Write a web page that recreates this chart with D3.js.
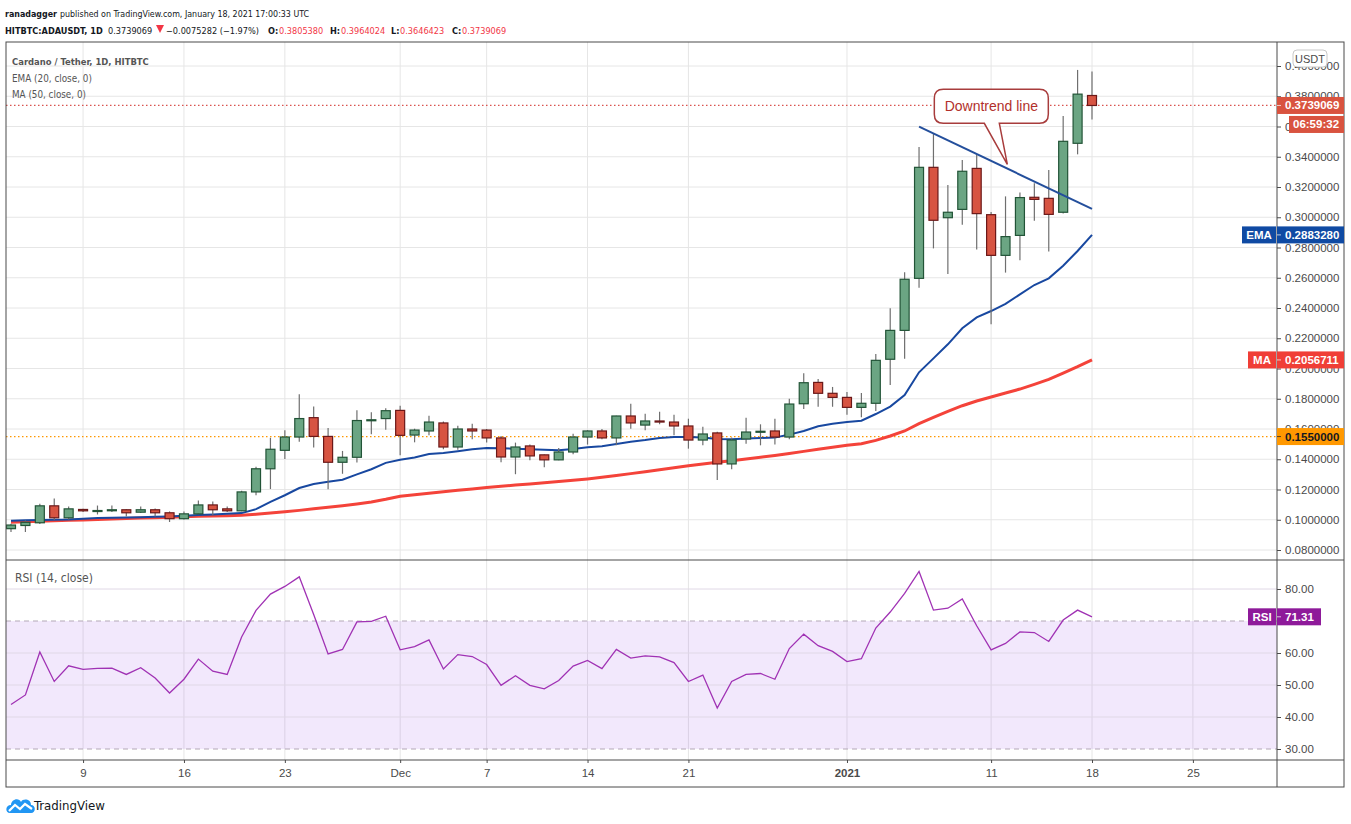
<!DOCTYPE html>
<html lang="en">
<head>
  <meta charset="UTF-8" />
  <title>Cardano / Tether, 1D, HITBTC</title>
  <script src="https://cdn.jsdelivr.net/npm/d3@7"></script>
  <style>
    body {
      margin: 0;
      background: #fff;
      font-family: "Liberation Sans", Arial, sans-serif;
    }
    svg { display: block; }
    .tick text { font-family: "Liberation Sans", Arial, sans-serif; }
    .narrow { font-family: "Liberation Sans Narrow", "DejaVu Sans Condensed", "Liberation Sans", sans-serif; }
  </style>
</head>
<body>
  <div id="chart"></div>

  <script>
    // daily candles, Nov 4 2020 -> Jan 18 2021
    const opens = [
      0.0941, 0.0962, 0.0980, 0.1092, 0.1013, 0.1068, 0.1058, 0.1060, 0.1066, 0.1050, 0.1066, 0.1046, 0.1007, 0.1039,
      0.1098, 0.1072, 0.1059, 0.1184, 0.1337, 0.1459, 0.1547, 0.1675, 0.1551, 0.1380, 0.1413, 0.1656, 0.1669,
      0.1723, 0.1560, 0.1587, 0.1640, 0.1481, 0.1600, 0.1593, 0.1541, 0.1415, 0.1488, 0.1429, 0.1396, 0.1448, 0.1547,
      0.1587, 0.1541, 0.1686, 0.1626, 0.1653, 0.1646, 0.1620, 0.1527, 0.1574, 0.1369, 0.1534, 0.1580, 0.1587, 0.1547,
      0.1767, 0.1908, 0.1836,
      0.1809, 0.1743, 0.1770, 0.2061, 0.2252, 0.2596, 0.3330, 0.2997, 0.3052, 0.3323, 0.3017, 0.2748, 0.2880, 0.3132,
      0.3125, 0.3033, 0.3489, 0.3805
    ];
    const highs = [
      0.0974, 0.0996, 0.1105, 0.1140, 0.1087, 0.1072, 0.1094, 0.1094, 0.1070, 0.1087, 0.1074, 0.1055, 0.1055, 0.1127,
      0.1120, 0.1087, 0.1192, 0.1350, 0.1542, 0.1592, 0.1829, 0.1748, 0.1606, 0.1455, 0.1724, 0.1710, 0.1737,
      0.1754, 0.1602, 0.1688, 0.1650, 0.1622, 0.1635, 0.1600, 0.1554, 0.1510, 0.1497, 0.1432, 0.1475, 0.1569, 0.1592,
      0.1600, 0.1688, 0.1767, 0.1701, 0.1714, 0.1694, 0.1668, 0.1615, 0.1582, 0.1543, 0.1675, 0.1631, 0.1668, 0.1800,
      0.1968, 0.1931, 0.1878,
      0.1845, 0.1838, 0.2096, 0.2398, 0.2636, 0.3464, 0.3550, 0.3213, 0.3379, 0.3412, 0.3035, 0.3138, 0.3163, 0.3224,
      0.3312, 0.3669, 0.3974, 0.3964
    ];
    const lows = [
      0.0919, 0.0919, 0.0972, 0.0998, 0.1002, 0.1052, 0.1035, 0.1052, 0.1022, 0.1044, 0.1022, 0.0985, 0.1002, 0.1037,
      0.1031, 0.1052, 0.1057, 0.1162, 0.1203, 0.1402, 0.1516, 0.1477, 0.1201, 0.1304, 0.1378, 0.1566, 0.1595,
      0.1426, 0.1512, 0.1558, 0.1466, 0.1462, 0.1532, 0.1510, 0.1380, 0.1301, 0.1393, 0.1347, 0.1394, 0.1433, 0.1497,
      0.1532, 0.1492, 0.1602, 0.1591, 0.1631, 0.1558, 0.1470, 0.1492, 0.1262, 0.1334, 0.1503, 0.1492, 0.1497, 0.1532,
      0.1732, 0.1747, 0.1747,
      0.1695, 0.1677, 0.1719, 0.1891, 0.2065, 0.2534, 0.2794, 0.2625, 0.2951, 0.2786, 0.2292, 0.2634, 0.2715, 0.2977,
      0.2773, 0.3024, 0.3416, 0.3646
    ];
    const closes = [
      0.0965, 0.0983, 0.1092, 0.1013, 0.1072, 0.1059, 0.1061, 0.1066, 0.1046, 0.1066, 0.1046, 0.1007, 0.1039, 0.1098,
      0.1066, 0.1059, 0.1184, 0.1337, 0.1466, 0.1547, 0.1669, 0.1551, 0.1380, 0.1413, 0.1656, 0.1661, 0.1721,
      0.1558, 0.1593, 0.1646, 0.1481, 0.1600, 0.1587, 0.1541, 0.1415, 0.1481, 0.1422, 0.1396, 0.1448, 0.1547, 0.1587,
      0.1541, 0.1686, 0.1640, 0.1653, 0.1646, 0.1620, 0.1527, 0.1567, 0.1369, 0.1527, 0.1580, 0.1585, 0.1547, 0.1765,
      0.1906, 0.1836, 0.1809,
      0.1743, 0.1770, 0.2054, 0.2252, 0.2590, 0.3330, 0.2980, 0.3033, 0.3304, 0.3024, 0.2748, 0.2872, 0.3130, 0.3118,
      0.3019, 0.3502, 0.3814, 0.3739
    ];
    const ema20 = [
      0.0993, 0.0996, 0.0998, 0.1000, 0.1002, 0.1007, 0.1011, 0.1013, 0.1015, 0.1017, 0.1020, 0.1022, 0.1026, 0.1031,
      0.1035, 0.1039, 0.1044, 0.1070, 0.1118, 0.1162, 0.1210, 0.1236, 0.1251, 0.1265, 0.1300, 0.1334, 0.1376,
      0.1396, 0.1411, 0.1435, 0.1442, 0.1453, 0.1466, 0.1475, 0.1473, 0.1470, 0.1466, 0.1462, 0.1459, 0.1468, 0.1479,
      0.1486, 0.1501, 0.1516, 0.1527, 0.1541, 0.1547, 0.1547, 0.1543, 0.1534, 0.1532, 0.1538, 0.1541, 0.1543, 0.1563,
      0.1587, 0.1618, 0.1635,
      0.1646, 0.1655, 0.1699, 0.1748, 0.1825, 0.1975, 0.2067, 0.2160, 0.2266, 0.2338, 0.2380, 0.2427, 0.2490, 0.2552,
      0.2596, 0.2680, 0.2777, 0.2883
    ];
    const ma50 = [
      0.0984, 0.0987, 0.0990, 0.0993, 0.0996, 0.0999, 0.1002, 0.1005, 0.1008, 0.1011, 0.1014, 0.1017, 0.1020, 0.1023,
      0.1025, 0.1027, 0.1030, 0.1036, 0.1044, 0.1053, 0.1062, 0.1072, 0.1082, 0.1092, 0.1104, 0.1118, 0.1135,
      0.1155, 0.1165, 0.1175, 0.1185, 0.1195, 0.1204, 0.1213, 0.1221, 0.1229, 0.1237, 0.1245, 0.1253, 0.1261, 0.1270,
      0.1281, 0.1293, 0.1305, 0.1318, 0.1331, 0.1344, 0.1357, 0.1369, 0.1380, 0.1390, 0.1401, 0.1413, 0.1425, 0.1438,
      0.1452, 0.1466, 0.1479,
      0.1492, 0.1503, 0.1525, 0.1554, 0.1587, 0.1635, 0.1677, 0.1717, 0.1754, 0.1785, 0.1812, 0.1838, 0.1864, 0.1895,
      0.1928, 0.1970, 0.2012, 0.2057
    ];
    const rsi14 = [
      43.9, 46.9, 60.3, 51.1, 56.0, 54.9, 55.2, 55.3, 53.3, 55.4, 52.2, 47.5, 51.8, 58.1,
      54.3, 53.3, 65.0, 73.3, 78.4, 80.8, 83.8, 72.0, 59.7, 61.1, 69.7, 69.9, 71.5,
      61.0, 62.0, 64.1, 55.0, 59.5, 58.9, 56.4, 49.9, 52.9, 49.9, 48.8, 51.4, 55.9, 57.7,
      55.1, 61.1, 58.4, 59.1, 58.8, 57.0, 51.1, 53.1, 42.8, 51.1, 53.3, 53.6, 51.8, 61.4,
      65.9, 62.3, 60.5,
      57.3, 58.2, 67.8, 72.8, 78.6, 85.5, 73.4, 74.0, 76.9, 68.5, 61.0, 63.0, 66.6, 66.4,
      63.6, 70.3, 73.4, 71.31
    ];

    const priceTicks = [0.08, 0.10, 0.12, 0.14, 0.16, 0.18, 0.20, 0.22, 0.24, 0.26, 0.28, 0.30, 0.32, 0.34, 0.36, 0.38, 0.40];
    const rsiTicks = [30, 40, 50, 60, 70, 80];
    const timeTickDates = ["2020-11-09", "2020-11-16", "2020-11-23", "2020-12-01", "2020-12-07", "2020-12-14",
      "2020-12-21", "2021-01-01", "2021-01-11", "2021-01-18", "2021-01-25"];
    const timeTickLabels = ["9", "16", "23", "Dec", "7", "14", "21", "2021", "11", "18", "25"];

    // downtrend line drawn on the chart, and the callout tip
    const trendDates = ["2021-01-06", "2021-01-18"];
    const trendValues = [0.3599, 0.3055];
    const calloutTip = { date: "2021-01-12T03:00:00Z", value: 0.335 };

    const width = 1351;
    const height = 824;
    const padL = 6, padR = 1344, axisX = 1277;
    const padT = 42, priceBottom = 560, rsiBottom = 760, padB = 787;

    const svg = d3.select("#chart")
      .append("svg")
      .attr("width", width)
      .attr("height", height)
      .style("font-family", "'Liberation Sans', Arial, sans-serif");

    const days = d3.utcDay.range(new Date(Date.UTC(2020, 10, 4)), new Date(Date.UTC(2021, 0, 19)));
    const data = days.map((d, i) => ({
      date: d, o: opens[i], h: highs[i], l: lows[i], c: closes[i],
      ema: ema20[i], ma: ma50[i], rsi: rsi14[i]
    }));

    const x = d3.scaleUtc()
      .domain([days[0], days[days.length - 1]])
      .range([11, 1092]);
    const y = d3.scaleLinear().domain([0.08, 0.40]).range([550, 66]);
    const yRsi = d3.scaleLinear().domain([30, 80]).range([749, 589]);
    const tickDates = timeTickDates.map(s => new Date(s + "T00:00:00Z"));

    const defs = svg.append("defs");
    defs.append("clipPath").attr("id", "clipPrice")
      .append("rect").attr("x", padL).attr("y", padT).attr("width", axisX - padL).attr("height", priceBottom - padT);
    defs.append("clipPath").attr("id", "clipRsi")
      .append("rect").attr("x", padL).attr("y", priceBottom).attr("width", axisX - padL).attr("height", rsiBottom - priceBottom);

    // a row of text pieces, each in its own slot; one shared font size so none runs past its slot
    function textRow(g, items, yy, size) {
      const nodes = items.map(it => g.append("text")
        .attr("class", "narrow")
        .attr("x", it.x0).attr("y", yy)
        .attr("font-size", size)
        .attr("font-weight", it.bold ? 700 : 400)
        .attr("fill", it.fill || "#131722")
        .text(it.t));
      let ratio = 1;
      nodes.forEach((n, i) => {
        const w = n.node().getComputedTextLength();
        ratio = Math.min(ratio, (items[i].x1 - items[i].x0) / w);
      });
      nodes.forEach(n => n.attr("font-size", size * ratio));
      return nodes;
    }

    // header
    const header = svg.append("g");
    const red = "#f23645";
    textRow(header, [
      { t: "ranadagger", x0: 5, x1: 57, bold: true },
      { t: "published on TradingView.com, January 18, 2021 17:00:33 UTC", x0: 60, x1: 341 }
    ], 17, 13.5);
    textRow(header, [
      { t: "HITBTC:ADAUSDT, 1D", x0: 5, x1: 105, bold: true },
      { t: "0.3739069", x0: 108, x1: 155 },
      { t: "\u22120.0075282 (\u22121.97%)", x0: 166, x1: 265 },
      { t: "O:", x0: 268, x1: 278.5, bold: true }, { t: "0.3805380", x0: 279, x1: 327, fill: red },
      { t: "H:", x0: 330, x1: 340.5, bold: true }, { t: "0.3964024", x0: 341, x1: 389, fill: red },
      { t: "L:", x0: 391, x1: 399.5, bold: true }, { t: "0.3646423", x0: 400, x1: 448, fill: red },
      { t: "C:", x0: 452, x1: 461.5, bold: true }, { t: "0.3739069", x0: 462, x1: 510, fill: red }
    ], 34, 13.5);
    header.append("path")
      .attr("d", "M156,25 L164,25 L160,33 Z")
      .attr("fill", red);

    // grid
    const grid = svg.append("g");
    grid.selectAll(".hg").data(priceTicks).enter().append("line")
      .attr("x1", padL).attr("x2", axisX)
      .attr("y1", d => y(d)).attr("y2", d => y(d))
      .attr("stroke", "#e6e6e6");
    grid.selectAll(".vg").data(tickDates).enter().append("line")
      .attr("x1", d => x(d)).attr("x2", d => x(d))
      .attr("y1", padT).attr("y2", rsiBottom)
      .attr("stroke", "#e6e6e6");

    // RSI band + grid
    const rsiG = svg.append("g").attr("clip-path", "url(#clipRsi)");
    rsiG.append("rect")
      .attr("x", padL).attr("width", axisX - padL)
      .attr("y", yRsi(70)).attr("height", yRsi(30) - yRsi(70))
      .attr("fill", "#8a2be2").attr("fill-opacity", 0.11);
    rsiG.selectAll(".rg").data(rsiTicks.filter(d => d !== 70 && d !== 30)).enter().append("line")
      .attr("x1", padL).attr("x2", axisX)
      .attr("y1", d => yRsi(d)).attr("y2", d => yRsi(d))
      .attr("stroke", "#e0d8e6");
    rsiG.selectAll(".rd").data([70, 30]).enter().append("line")
      .attr("x1", padL).attr("x2", axisX)
      .attr("y1", d => yRsi(d)).attr("y2", d => yRsi(d))
      .attr("stroke", "#b3a8b6").attr("stroke-dasharray", "5,4");
    rsiG.append("path")
      .datum(data)
      .attr("fill", "none")
      .attr("stroke", "#a032b4")
      .attr("stroke-width", 1.3)
      .attr("d", d3.line().x(d => x(d.date)).y(d => yRsi(d.rsi)));

    // price pane
    const priceG = svg.append("g").attr("clip-path", "url(#clipPrice)");

    priceG.append("line")
      .attr("x1", padL).attr("x2", axisX)
      .attr("y1", y(0.155)).attr("y2", y(0.155))
      .attr("stroke", "#ff9800").attr("stroke-dasharray", "1.5,2.5").attr("stroke-width", 1.2);
    priceG.append("line")
      .attr("x1", padL).attr("x2", axisX)
      .attr("y1", y(0.3739069)).attr("y2", y(0.3739069))
      .attr("stroke", "#d9534f").attr("stroke-dasharray", "1.5,2.5").attr("stroke-width", 1.2);

    priceG.append("path")
      .datum(data)
      .attr("fill", "none")
      .attr("stroke", "#f4433a")
      .attr("stroke-width", 3)
      .attr("d", d3.line().x(d => x(d.date)).y(d => y(d.ma)));
    priceG.append("path")
      .datum(data)
      .attr("fill", "none")
      .attr("stroke", "#1848a0")
      .attr("stroke-width", 2)
      .attr("d", d3.line().x(d => x(d.date)).y(d => y(d.ema)));

    const candles = priceG.selectAll(".candle").data(data).enter().append("g");
    candles.append("line")
      .attr("x1", d => x(d.date)).attr("x2", d => x(d.date))
      .attr("y1", d => y(d.h)).attr("y2", d => y(d.l))
      .attr("stroke", "#6f6f6f").attr("stroke-width", 1.2);
    candles.append("rect")
      .attr("x", d => x(d.date) - 4.5)
      .attr("width", 9)
      .attr("y", d => y(Math.max(d.o, d.c)))
      .attr("height", d => Math.max(1, Math.abs(y(d.o) - y(d.c))))
      .attr("fill", d => d.c >= d.o ? "#6ba583" : "#d75442")
      .attr("stroke", d => d.c >= d.o ? "#225437" : "#6b1818")
      .attr("stroke-width", 1.2);

    // downtrend line
    priceG.append("line")
      .attr("x1", x(new Date(trendDates[0] + "T00:00:00Z"))).attr("y1", y(trendValues[0]))
      .attr("x2", x(new Date(trendDates[1] + "T00:00:00Z"))).attr("y2", y(trendValues[1]))
      .attr("stroke", "#244f9c").attr("stroke-width", 2);

    // callout
    const tx = x(new Date(calloutTip.date)), ty = y(calloutTip.value);
    const bx0 = tx - 73, bx1 = tx + 41, by0 = ty - 75, by1 = ty - 41, r = 9;
    const nx0 = tx - 23, nx1 = tx - 8;
    const cp = d3.path();
    cp.moveTo(bx0 + r, by0);
    cp.lineTo(bx1 - r, by0);
    cp.quadraticCurveTo(bx1, by0, bx1, by0 + r);
    cp.lineTo(bx1, by1 - r);
    cp.quadraticCurveTo(bx1, by1, bx1 - r, by1);
    cp.lineTo(nx1, by1);
    cp.lineTo(tx, ty);
    cp.lineTo(nx0, by1);
    cp.lineTo(bx0 + r, by1);
    cp.quadraticCurveTo(bx0, by1, bx0, by1 - r);
    cp.lineTo(bx0, by0 + r);
    cp.quadraticCurveTo(bx0, by0, bx0 + r, by0);
    cp.closePath();
    svg.append("path")
      .attr("d", cp.toString())
      .attr("fill", "#fff")
      .attr("stroke", "#a83c3c")
      .attr("stroke-width", 1.5);
    svg.append("text")
      .attr("x", (bx0 + bx1) / 2).attr("y", (by0 + by1) / 2 + 5)
      .attr("text-anchor", "middle")
      .attr("font-size", 14)
      .attr("fill", "#b2302b")
      .text("Downtrend line");

    // pane legends
    const leg = svg.append("g");
    textRow(leg, [{ t: "Cardano / Tether, 1D, HITBTC", x0: 12, x1: 149, bold: true, fill: "#555" }], 65, 13);
    textRow(leg, [{ t: "EMA (20, close, 0)", x0: 12, x1: 92, fill: "#555" }], 82, 13);
    textRow(leg, [{ t: "MA (50, close, 0)", x0: 12, x1: 86, fill: "#555" }], 98, 13);
    textRow(leg, [{ t: "RSI (14, close)", x0: 15, x1: 93, fill: "#555" }], 582, 13);

    // axes (the 70 label sits under the RSI value tag, as in the original)
    const yAxis = svg.append("g")
      .attr("transform", `translate(${axisX},0)`)
      .call(d3.axisRight(y).tickValues(priceTicks).tickFormat(d3.format(".7f")).tickSize(4).tickPadding(4));
    const rAxis = svg.append("g")
      .attr("transform", `translate(${axisX},0)`)
      .call(d3.axisRight(yRsi).tickValues(rsiTicks).tickFormat(d => d === 70 ? "" : d3.format(".2f")(d)).tickSize(4).tickPadding(4));
    const xAxis = svg.append("g")
      .attr("transform", `translate(0,${rsiBottom})`)
      .call(d3.axisBottom(x).tickValues(tickDates).tickFormat((d, i) => timeTickLabels[i]).tickSize(3).tickPadding(6));
    [yAxis, rAxis, xAxis].forEach(a => {
      a.select(".domain").remove();
      a.selectAll(".tick line").attr("stroke", "#4a4a4a");
      a.selectAll(".tick text").attr("fill", "#4a4a4a").attr("font-size", 11.5);
    });
    xAxis.selectAll(".tick text").attr("font-weight", (d, i) => timeTickLabels[i] === "2021" ? 700 : 400);

    // frame
    const frame = svg.append("g").attr("stroke", "#4a4a4a").attr("fill", "none");
    frame.append("rect").attr("x", padL).attr("y", padT).attr("width", padR - padL).attr("height", padB - padT);
    frame.append("line").attr("x1", padL).attr("x2", padR).attr("y1", priceBottom).attr("y2", priceBottom);
    frame.append("line").attr("x1", padL).attr("x2", padR).attr("y1", rsiBottom).attr("y2", rsiBottom);
    frame.append("line").attr("x1", axisX).attr("x2", axisX).attr("y1", padT).attr("y2", padB);

    // price scale labels
    function tag(value, scale, label, color, textColor, tagX, valueRight) {
      const cy = scale(value);
      const g = svg.append("g");
      if (label) {
        g.append("rect").attr("x", tagX).attr("y", cy - 8.5).attr("width", axisX - 1 - tagX).attr("height", 17).attr("fill", color);
        g.append("text").attr("x", (tagX + axisX - 1) / 2).attr("y", cy + 4).attr("text-anchor", "middle")
          .attr("font-size", 11.5).attr("font-weight", 700).attr("fill", textColor).text(label);
      }
      g.append("rect").attr("x", axisX).attr("y", cy - 8.5).attr("width", valueRight - axisX).attr("height", 17).attr("fill", color);
      g.append("line").attr("x1", axisX).attr("x2", axisX + 4).attr("y1", cy).attr("y2", cy).attr("stroke", textColor).attr("stroke-opacity", 0.7);
      g.append("text").attr("x", axisX + 8).attr("y", cy + 4)
        .attr("font-size", 11.5).attr("font-weight", 700).attr("fill", textColor)
        .text(scale === y ? d3.format(".7f")(value) : d3.format(".2f")(value));
    }
    tag(0.3739069, y, null, "#d9533f", "#fff", 0, padR);
    tag(0.2883280, y, "EMA", "#0f4aa3", "#fff", 1242, padR);
    tag(0.2056711, y, "MA", "#f03e36", "#fff", 1248, padR);
    tag(0.1550000, y, null, "#ff9800", "#131722", 0, padR);
    tag(71.31, yRsi, "RSI", "#8e1a9a", "#fff", 1248, 1321);

    // countdown
    const cd = y(0.3739069) + 19;
    svg.append("rect").attr("x", 1289).attr("y", cd - 8.5).attr("width", padR - 1289).attr("height", 17).attr("fill", "#d9533f");
    svg.append("text").attr("x", 1293).attr("y", cd + 4).attr("font-size", 11.5).attr("font-weight", 700)
      .attr("fill", "#fff").text("06:59:32");

    // USDT badge
    svg.append("rect").attr("x", 1293).attr("y", 50).attr("width", 34).attr("height", 17).attr("rx", 4)
      .attr("fill", "#fff").attr("stroke", "#c8c8c8");
    svg.append("text").attr("x", 1310).attr("y", 62.5).attr("text-anchor", "middle").attr("font-size", 11)
      .attr("fill", "#4a4a4a").text("USDT");

    // TradingView mark
    const logo = svg.append("g").attr("transform", "translate(6,796)");
    logo.append("path")
      .attr("d", "M4,17 C-1,17 -1,9 5,9 C5,3 13,1 15,6 C17,2 25,3 25,9 C30,9 30,17 25,17 Z")
      .attr("fill", "#2196f3");
    logo.append("polyline")
      .attr("points", "3,15 9,9 14,13 19,8 26,13")
      .attr("fill", "none").attr("stroke", "#fff").attr("stroke-width", 2.2);
    textRow(svg, [{ t: "TradingView", x0: 34, x1: 105 }], 810, 14.5);
  </script>
</body>
</html>
